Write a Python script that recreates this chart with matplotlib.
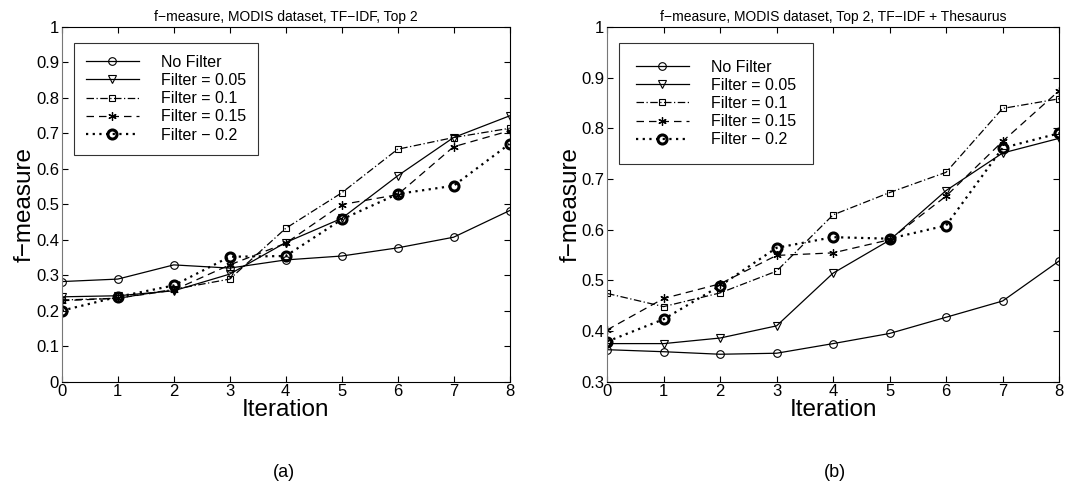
import matplotlib
matplotlib.use('Agg')
import matplotlib.pyplot as plt

plt.rcParams['font.family'] = ['Liberation Sans', 'DejaVu Sans']

iterations = [0, 1, 2, 3, 4, 5, 6, 7, 8]
labels = ['No Filter', 'Filter = 0.05', 'Filter = 0.1', 'Filter = 0.15', 'Filter \u2212 0.2']

# panel (a): TF-IDF, Top 2
a_none = [0.282, 0.289, 0.329, 0.320, 0.343, 0.354, 0.377, 0.407, 0.482]
a_f005 = [0.239, 0.242, 0.256, 0.303, 0.392, 0.460, 0.580, 0.688, 0.749]
a_f01 = [0.230, 0.235, 0.260, 0.289, 0.432, 0.532, 0.655, 0.688, 0.714]
a_f015 = [0.228, 0.235, 0.258, 0.329, 0.390, 0.499, 0.527, 0.662, 0.707]
a_f02 = [0.200, 0.239, 0.271, 0.352, 0.354, 0.457, 0.529, 0.552, 0.670]

# panel (b): TF-IDF + Thesaurus, Top 2
b_none = [0.363, 0.359, 0.354, 0.356, 0.375, 0.395, 0.427, 0.459, 0.538]
b_f005 = [0.375, 0.375, 0.386, 0.410, 0.514, 0.579, 0.677, 0.751, 0.780]
b_f01 = [0.474, 0.448, 0.475, 0.518, 0.629, 0.673, 0.713, 0.839, 0.858]
b_f015 = [0.402, 0.464, 0.493, 0.549, 0.554, 0.580, 0.666, 0.774, 0.874]
b_f02 = [0.379, 0.423, 0.489, 0.564, 0.585, 0.582, 0.608, 0.761, 0.790]

styles = [
    dict(ls='-', marker='o', ms=5.5, mfc='none', mew=0.8),
    dict(ls='-', marker='v', ms=6, mfc='none', mew=0.8),
    dict(ls=(0, (6, 2, 1, 2)), marker='s', ms=4.5, mfc='none', mew=0.8),
    dict(ls=(0, (6, 4)), marker=(6, 2, 0), ms=6, mew=0.9),
    dict(ls=(0, (1, 2)), marker='o', ms=6.5, mfc='none', mew=2.2, lw=1.6),
]


def draw(ax, series, title, ylim, yticks, yticklabels, legpad):
    for vals, lab, st in zip(series, labels, styles):
        st = dict(st)
        lw = st.pop('lw', 0.9)
        ax.plot(iterations, vals, color='black', lw=lw, label=lab, **st)
    ax.set_xlim(0, 8)
    ax.set_ylim(*ylim)
    ax.set_xticks(iterations)
    ax.set_yticks(yticks)
    ax.set_yticklabels(yticklabels)
    ax.tick_params(direction='in', top=True, right=True, labelsize=12, length=4)
    ax.tick_params(axis='x', pad=2)
    ax.tick_params(axis='y', pad=2)
    ax.set_title(title, fontsize=10, pad=4)
    ax.set_xlabel('Iteration', fontsize=17.5, labelpad=0)
    ax.set_ylabel('f\u2212measure', fontsize=17.5, labelpad=0)
    leg = ax.legend(loc='upper left', fontsize=11.5, frameon=True, fancybox=False,
                    edgecolor='black', handlelength=3.3, handletextpad=1.4,
                    borderpad=legpad, labelspacing=0.2, borderaxespad=0,
                    bbox_to_anchor=(0.027, 0.955))
    leg.get_frame().set_linewidth(0.8)
    for sp in ax.spines.values():
        sp.set_linewidth(0.8)
    ax.spines['left'].set_color('#777777')


fig = plt.figure(figsize=(10.66, 4.88), dpi=100)
ax1 = fig.add_axes([0.058, 0.218, 0.420, 0.727])
ax2 = fig.add_axes([0.5695, 0.218, 0.424, 0.727])

ya = [i / 10 for i in range(11)]
yla = ['0'] + ['%.1f' % v for v in ya[1:-1]] + ['1']
draw(ax1, [a_none, a_f005, a_f01, a_f015, a_f02],
     'f\u2212measure, MODIS dataset, TF\u2212IDF, Top 2', (0, 1), ya, yla, 0.75)

yb = [0.3, 0.4, 0.5, 0.6, 0.7, 0.8, 0.9, 1.0]
ylb = ['%.1f' % v for v in yb[:-1]] + ['1']
draw(ax2, [b_none, b_f005, b_f01, b_f015, b_f02],
     'f\u2212measure, MODIS dataset, Top 2, TF\u2212IDF + Thesaurus', (0.3, 1), yb, ylb, 1.05)

fig.text(0.266, 0.031, '(a)', ha='center', va='center', fontsize=13)
fig.text(0.783, 0.031, '(b)', ha='center', va='center', fontsize=13)

plt.savefig('out.png', dpi=100)
